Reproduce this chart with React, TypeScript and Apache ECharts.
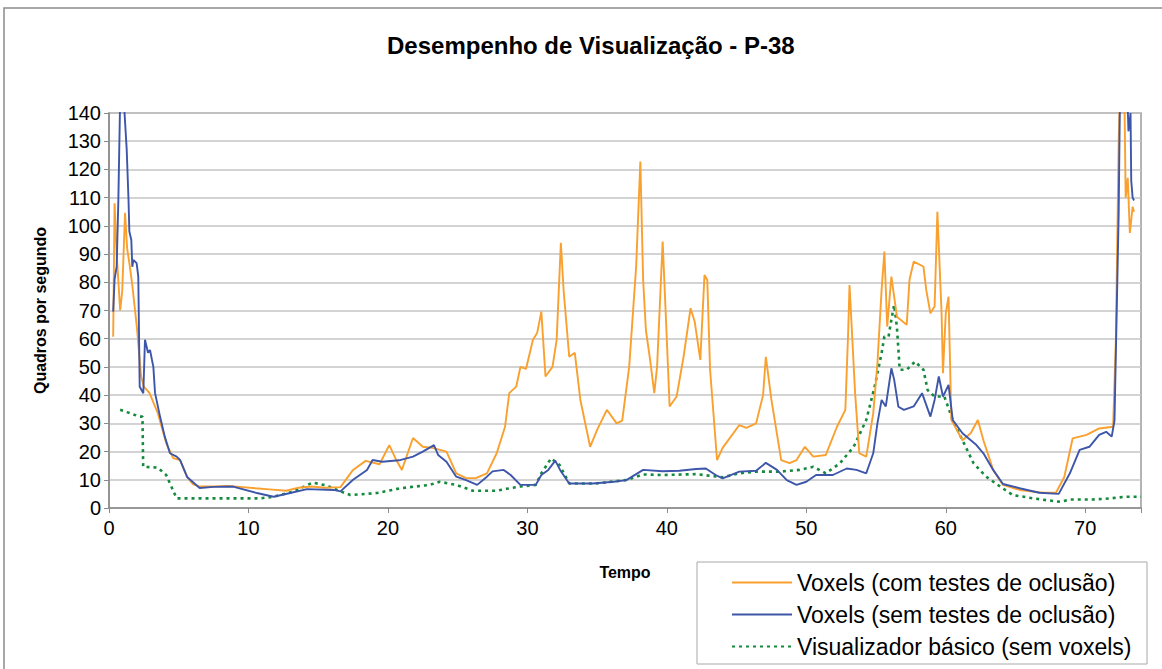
import React, { useEffect, useRef } from "react";
import * as echarts from "echarts";

const titleText = "Desempenho de Visualização - P-38";
const xName = "Tempo";
const yName = "Quadros por segundo";
const seriesNames = [
  "Voxels (com testes de oclusão)",
  "Voxels (sem testes de oclusão)",
  "Visualizador básico (sem voxels)",
];

const orangeX = [0.3, 0.4, 0.55, 0.8, 0.95, 1.15, 1.3, 1.5, 1.67, 2.0, 2.3, 2.5, 2.9, 3.5, 4.1, 4.6, 5.1, 5.6, 6.0, 6.5, 7.5, 8.5, 9.4, 10.5, 11.5, 12.7, 13.6, 14.5, 15.5, 16.6, 17.5, 18.4, 19.4, 20.1, 20.6, 21.0, 21.8, 22.5, 23.2, 24.2, 24.9, 25.6, 26.3, 27.1, 27.8, 28.4, 28.7, 29.2, 29.5, 29.9, 30.4, 30.7, 31.0, 31.3, 31.8, 32.1, 32.4, 32.6, 33.0, 33.4, 33.8, 34.5, 35.0, 35.7, 36.4, 36.8, 37.3, 37.8, 38.1, 38.3, 38.5, 38.8, 39.1, 39.3, 39.7, 40.0, 40.2, 40.7, 41.2, 41.7, 42.0, 42.4, 42.7, 42.9, 43.1, 43.6, 44.0, 45.2, 45.7, 46.4, 46.9, 47.1, 47.5, 48.2, 48.8, 49.3, 49.9, 50.5, 51.4, 52.2, 52.8, 53.0, 53.1, 53.5, 53.8, 54.3, 54.8, 55.1, 55.4, 55.6, 55.8, 56.1, 56.5, 57.2, 57.4, 57.7, 58.4, 58.6, 58.9, 59.2, 59.4, 59.7, 59.8, 60.0, 60.2, 60.4, 61.2, 61.8, 62.3, 62.7, 63.4, 64.1, 65.3, 67.0, 67.9, 68.5, 69.1, 70.1, 71.0, 72.0, 72.2, 72.4, 72.5, 72.8, 72.85, 72.9, 73.05, 73.2, 73.3, 73.4, 73.5];
const orangeY = [60.7, 108, 90, 70, 77, 104.6, 92, 85.5, 79, 64, 46.6, 43, 40.8, 33.6, 23, 17.7, 17, 11, 8.5, 7.6, 7.6, 7.8, 7.5, 7, 6.6, 6.1, 7.2, 7.6, 7.2, 7.4, 13.5, 16.7, 15.5, 22.3, 17, 13.5, 24.8, 21.7, 21.3, 20, 12.3, 10.6, 10.6, 12.3, 19.4, 28.8, 40.7, 43, 50, 49.3, 59.6, 62, 69.6, 46.6, 50, 59.6, 94, 77, 53.6, 55, 38.3, 21.7, 27.7, 34.8, 30, 31, 50, 85.6, 122.8, 80.8, 63, 52.5, 40.7, 50, 94.4, 59.6, 36, 39.5, 53.6, 70.8, 66, 52.5, 82.6, 80.8, 49, 17, 21.3, 29.4, 28.4, 30, 40, 53.6, 38.3, 17, 15.9, 17, 21.7, 18.2, 18.8, 28.8, 34.8, 62, 79, 40.7, 19.4, 18.2, 33.6, 51.3, 77.3, 90.9, 64.3, 82, 67.8, 64.9, 80.9, 87.3, 85.6, 77.3, 69, 71.4, 105, 69, 47.8, 69, 74.9, 31.2, 24, 26.6, 31.2, 24, 13.5, 8.2, 6.4, 5.4, 5.4, 11, 24.7, 25.9, 28.2, 28.8, 60, 130, 150, 150, 130.5, 110, 117, 97.5, 102, 106.8, 105];

const blueX = [0.3, 0.4, 0.55, 0.67, 0.8, 1.0, 1.15, 1.27, 1.4, 1.46, 1.6, 1.67, 1.75, 1.98, 2.1, 2.2, 2.46, 2.58, 2.8, 2.94, 3.18, 3.3, 3.66, 4.0, 4.37, 4.85, 5.1, 5.6, 6.5, 7.5, 8.9, 10.6, 11.8, 13.0, 14.2, 16.1, 16.6, 17.5, 18.5, 18.9, 19.6, 20.8, 21.8, 22.5, 23.3, 23.6, 24.2, 24.9, 25.6, 26.4, 27.1, 27.5, 28.3, 28.8, 29.5, 30.6, 31.0, 31.5, 32.0, 32.4, 33.0, 34.7, 36.2, 37.1, 38.3, 39.7, 40.9, 42.1, 42.8, 43.5, 44.0, 45.2, 46.4, 47.1, 47.9, 48.6, 49.3, 50.0, 50.7, 51.9, 52.9, 53.6, 54.3, 54.8, 55.1, 55.4, 55.7, 56.1, 56.3, 56.6, 57.0, 57.7, 58.3, 58.9, 59.2, 59.5, 59.8, 60.2, 60.5, 61.2, 62.2, 62.7, 63.4, 64.1, 65.3, 66.7, 68.1, 68.9, 69.6, 70.3, 71.0, 71.5, 71.9, 72.1, 72.4, 72.5, 73.0, 73.1, 73.25, 73.3, 73.4, 73.5];
const blueY = [69.6, 81, 85.6, 109, 145, 150, 137, 127, 109, 98, 95, 85.5, 87.9, 86.8, 82, 43, 40.7, 59.6, 55, 56, 50, 40.8, 32.4, 25.3, 19.4, 18.2, 17, 11, 7.1, 7.5, 7.6, 5.3, 4, 5.3, 6.7, 6.4, 5.9, 10, 13.5, 17, 16.4, 16.9, 18.2, 20, 22.3, 18.8, 16.4, 11.1, 9.9, 8.2, 11.1, 13, 13.5, 11.7, 8.2, 8.2, 11.7, 13.5, 16.8, 13, 8.7, 8.7, 9.3, 9.9, 13.5, 13, 13.2, 13.8, 14, 11.7, 10.5, 12.9, 13.2, 16, 13.5, 9.9, 8.2, 9.3, 11.7, 11.7, 14, 13.5, 12.3, 19.4, 30, 38.3, 36, 49.5, 45.5, 35.9, 34.8, 36, 40.7, 32.4, 38.3, 46.6, 39.5, 43.6, 31.2, 26.5, 22.3, 19.4, 13.5, 8.5, 7, 5.4, 5, 12.3, 20.6, 21.7, 25.9, 27, 25.3, 31, 104.6, 150, 150, 133.5, 140, 116, 110, 109];

const greenX = [0.8, 2.2, 2.4, 2.45, 3.5, 4.1, 4.85, 10.8, 11.8, 13.2, 14.6, 15.6, 16.6, 17.3, 19.2, 20.9, 23.0, 23.7, 24.9, 26.1, 27.8, 28.5, 29.5, 30.6, 31.0, 31.7, 32.3, 33.0, 34.9, 37.1, 38.3, 39.7, 42.1, 44.0, 45.2, 46.4, 48.1, 49.5, 50.5, 51.4, 52.4, 53.4, 54.3, 54.9, 55.4, 55.6, 55.9, 56.1, 56.3, 56.5, 56.7, 57.2, 57.8, 58.4, 58.7, 59.2, 59.9, 60.5, 61.2, 62.0, 62.9, 63.9, 64.8, 66.3, 67.2, 68.2, 68.9, 70.5, 71.8, 72.9, 74.0];
const greenY = [34.8, 32.4, 32.4, 14.6, 14.3, 11.7, 3.4, 3.4, 4, 5.8, 9, 8, 5.9, 4.6, 5.3, 7, 8.2, 9.3, 8.2, 6.1, 6.1, 6.8, 7.6, 8.2, 12.3, 17.6, 15.3, 8.7, 8.7, 9.9, 11.9, 11.7, 12, 10.9, 12.3, 12.9, 12.9, 13.5, 14.6, 12.3, 15.8, 21.7, 31.2, 43, 54.9, 60.8, 60.8, 66.7, 72, 64, 49, 49, 51.9, 49, 41.8, 39.5, 39.5, 31.2, 24, 15.8, 11.1, 7.6, 4.6, 3.4, 2.8, 2.2, 3, 3, 3.4, 4, 4];

const xTicks = [0, 10, 20, 30, 40, 50, 60, 70];

const zip = (xs: number[], ys: number[]) => xs.map((x, i) => [x, ys[i]]);

export default function App() {
  const ref = useRef<HTMLDivElement>(null);
  useEffect(() => {
    if (!ref.current) return;
    const chart = echarts.init(ref.current, null, { renderer: "svg" });
    const font = "'Liberation Sans', Arial, sans-serif";
    chart.setOption({
      animation: false,
      backgroundColor: "#ffffff",
      textStyle: { fontFamily: font },
      title: {
        text: titleText,
        left: 382,
        top: 28,
        textStyle: { fontSize: 24, fontWeight: "bold", color: "#000", fontFamily: font },
      },
      grid: {
        left: 109,
        top: 113,
        width: 1032,
        height: 395,
        show: true,
        borderColor: "#9a9a9a",
        borderWidth: 1.5,
        containLabel: false,
      },
      legend: {
        orient: "vertical",
        left: 726,
        top: 566,
        itemWidth: 60,
        itemHeight: 14,
        itemGap: 9,
        z: 10,
        itemStyle: { opacity: 0 },
        textStyle: { fontSize: 23, color: "#000", fontFamily: font },
        data: seriesNames,
      },
      xAxis: {
        type: "value",
        min: 0,
        max: 74,
        interval: 10,
        name: xName,
        nameLocation: "middle",
        nameGap: 56,
        nameTextStyle: { fontSize: 16, fontWeight: "bold", color: "#000" },
        axisLine: { show: true, lineStyle: { color: "#8a8a8a", width: 1.5 } },
        axisTick: { show: true, length: 5, lineStyle: { color: "#8a8a8a" } },
        axisLabel: {
          fontSize: 20,
          color: "#000",
          margin: 10,
          formatter: (v: number) => (xTicks.includes(v) ? String(v) : ""),
        },
        splitLine: { show: false },
      },
      yAxis: {
        type: "value",
        min: 0,
        max: 140,
        interval: 10,
        name: yName,
        nameLocation: "middle",
        nameGap: 61,
        nameTextStyle: { fontSize: 16, fontWeight: "bold", color: "#000" },
        axisLine: { show: true, lineStyle: { color: "#8a8a8a", width: 1.5 } },
        axisTick: { show: true, length: 5, lineStyle: { color: "#8a8a8a" } },
        axisLabel: { fontSize: 20, color: "#000", margin: 8 },
        splitLine: { show: true, lineStyle: { color: "#c4c4c4", width: 1.5 } },
      },
      graphic: [
        {
          type: "rect",
          silent: true,
          z: 0,
          shape: { x: 4, y: 8, width: 1170, height: 680 },
          style: { fill: "none", stroke: "#8c8c8c", lineWidth: 1.5 },
        },
        {
          type: "rect",
          silent: true,
          z: 1,
          shape: { x: 697, y: 562, width: 450, height: 102 },
          style: { fill: "#ffffff", stroke: "#a8a8a8", lineWidth: 1 },
        },
      ],
      series: [
        {
          name: seriesNames[0],
          type: "line",
          symbol: "none",
          clip: true,
          data: zip(orangeX, orangeY),
          lineStyle: { color: "#F9A02E", width: 1.9 },
          itemStyle: { color: "#F9A02E" },
          z: 3,
        },
        {
          name: seriesNames[1],
          type: "line",
          symbol: "none",
          clip: true,
          data: zip(blueX, blueY),
          lineStyle: { color: "#3D56AA", width: 1.9 },
          itemStyle: { color: "#3D56AA" },
          z: 4,
        },
        {
          name: seriesNames[2],
          type: "line",
          symbol: "none",
          clip: true,
          data: zip(greenX, greenY),
          lineStyle: { color: "#138A3C", width: 2.6, type: [3, 4] },
          itemStyle: { color: "#138A3C" },
          z: 2,
        },
      ],
    });
    return () => chart.dispose();
  }, []);
  return (
    <div
      ref={ref}
      style={{ position: "absolute", left: 0, top: 0, width: 1162, height: 669 }}
    />
  );
}
